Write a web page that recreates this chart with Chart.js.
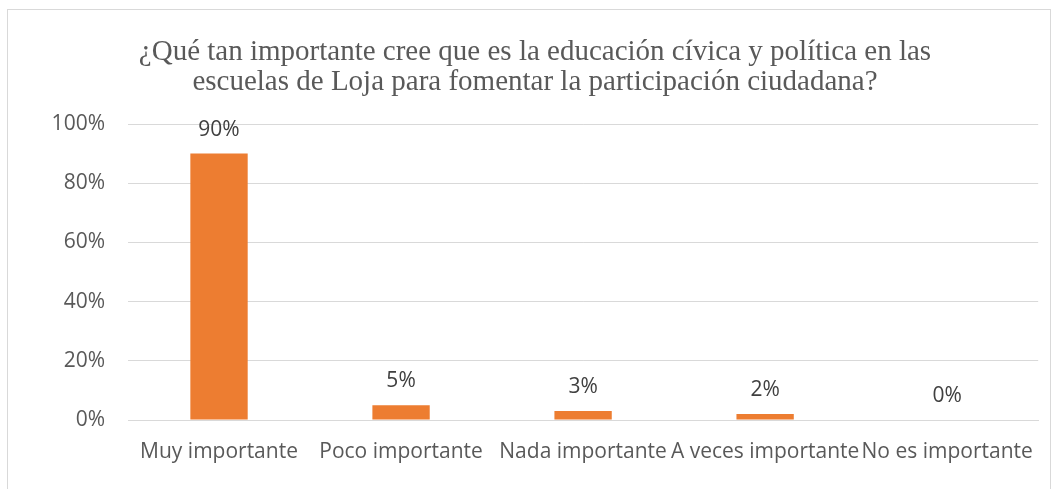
<!DOCTYPE html>
<html>
<head>
<meta charset="utf-8">
<style>
html,body{margin:0;padding:0;background:#fff;}
#wrap{position:relative;width:1052px;height:489px;}
canvas{display:block;}
</style>
<script src="https://cdn.jsdelivr.net/npm/chart.js@4.4.1/dist/chart.umd.min.js"></script>
</head>
<body>
<div id="wrap"><canvas id="c" width="1052" height="489"></canvas></div>
<script>
const titleLines = ["¿Qué tan importante cree que es la educación cívica y política en las", "escuelas de Loja para fomentar la participación ciudadana?"];
const categories = ["Muy importante", "Poco importante", "Nada importante", "A veces importante", "No es importante"];
const values = [0.90, 0.05, 0.03, 0.02, 0.00];
const yTicks = [0, 0.2, 0.4, 0.6, 0.8, 1.0];

const labelFont = "'Open Sans', sans-serif";

const framePlugin = {
  id: 'frame',
  beforeDraw(chart) {
    const ctx = chart.ctx;
    ctx.save();
    ctx.fillStyle = '#fff';
    ctx.fillRect(0, 0, chart.width, chart.height);
    ctx.strokeStyle = '#d9d9d9';
    ctx.lineWidth = 1;
    ctx.strokeRect(7.5, 9.5, 1043, 520);
    ctx.fillStyle = '#595959';
    ctx.font = "29px 'Liberation Serif', 'Times New Roman', serif";
    ctx.textAlign = 'center';
    ctx.textBaseline = 'alphabetic';
    const cx = 535;
    ctx.fillText(titleLines[0], cx, 60);
    ctx.fillText(titleLines[1], cx, 90);
    ctx.restore();
  }
};

const valueLabels = {
  id: 'valueLabels',
  afterDatasetsDraw(chart) {
    const ctx = chart.ctx;
    const meta = chart.getDatasetMeta(0);
    ctx.save();
    ctx.fillStyle = '#404040';
    ctx.font = "21px " + labelFont;
    ctx.textAlign = 'center';
    ctx.textBaseline = 'middle';
    meta.data.forEach((bar, i) => {
      const v = chart.data.datasets[0].data[i];
      ctx.fillText(Math.round(v * 100) + '%', bar.x, bar.y - 24);
    });
    ctx.restore();
  }
};

new Chart(document.getElementById('c'), {
  type: 'bar',
  data: {
    labels: categories,
    datasets: [{
      data: values,
      backgroundColor: '#ED7D31',
      borderWidth: 0,
      barPercentage: 0.63,
      categoryPercentage: 0.5
    }]
  },
  options: {
    responsive: false,
    animation: false,
    devicePixelRatio: 1,
    layout: { padding: { top: 124, right: 2, bottom: 0, left: 0 } },
    plugins: {
      legend: { display: false },
      title: { display: false },
      tooltip: { enabled: false }
    },
    scales: {
      x: {
        grid: { display: false, drawTicks: false },
        border: { display: true, color: '#d9d9d9', width: 1 },
        ticks: {
          color: '#595959',
          font: { family: labelFont, size: 21 },
          padding: 19,
          maxRotation: 0,
          autoSkip: false
        },
        afterFit(scale) { scale.height = 69; }
      },
      y: {
        min: 0,
        max: 1,
        afterBuildTicks(scale) { scale.ticks = yTicks.map(v => ({ value: v })); },
        grid: { color: '#d9d9d9', drawTicks: false },
        border: { display: false },
        ticks: {
          color: '#595959',
          font: { family: labelFont, size: 21 },
          padding: 23,
          callback: v => Math.round(v * 100) + '%'
        },
        afterFit(scale) { scale.width = 128; }
      }
    }
  },
  plugins: [framePlugin, valueLabels]
});
</script>
</body>
</html>
